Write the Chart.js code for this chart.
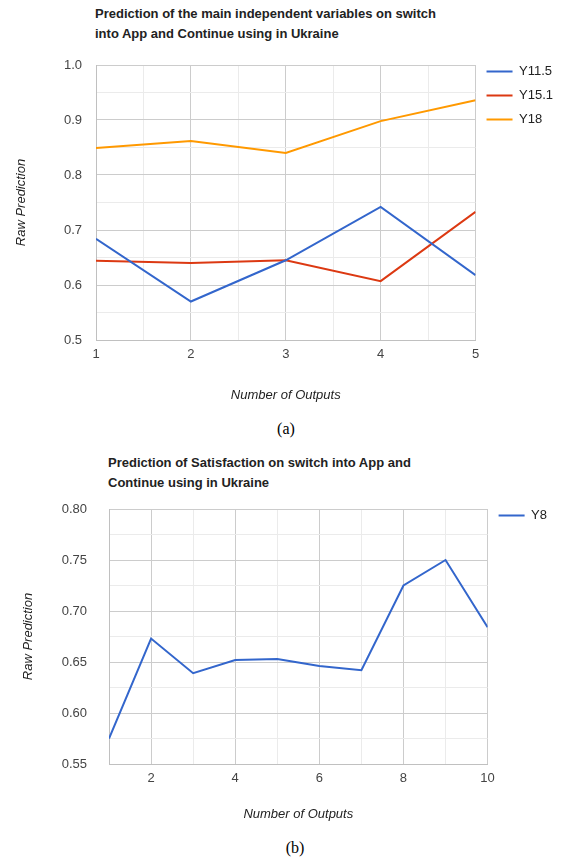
<!DOCTYPE html>
<html>
<head>
<meta charset="utf-8">
<script src="https://cdn.jsdelivr.net/npm/chart.js@4/dist/chart.umd.min.js"></script>
<style>
  body { margin: 0; background: #fff; width: 566px; height: 861px; position: relative; overflow: hidden; }
  .title { position: absolute; font: bold 13px "Liberation Sans", Arial, sans-serif; color: #222; line-height: 20px; }
  .cap { position: absolute; font: 16px "Liberation Serif", "Times New Roman", serif; color: #000; width: 60px; text-align: center; }
  .box { position: absolute; left: 0; width: 566px; }
</style>
</head>
<body>
<div class="title" style="left:95px; top:4px;">Prediction of the main independent variables on switch<br>into App and Continue using in Ukraine</div>
<div class="box" style="top:54px; height:362px;"><canvas id="chartA"></canvas></div>
<div class="cap" style="left:256px; top:420px;">(a)</div>

<div class="title" style="left:108px; top:453px;">Prediction of Satisfaction on switch into App and<br>Continue using in Ukraine</div>
<div class="box" style="top:498px; height:340px;"><canvas id="chartB"></canvas></div>
<div class="cap" style="left:265px; top:839px;">(b)</div>

<script>
// chart (a)
const outputsA = [1, 2, 3, 4, 5];
const y11_5 = [0.684, 0.570, 0.645, 0.742, 0.618];
const y15_1 = [0.644, 0.640, 0.645, 0.607, 0.733];
const y18 = [0.849, 0.862, 0.840, 0.898, 0.936];

// chart (b)
const outputsB = [1, 2, 3, 4, 5, 6, 7, 8, 9, 10];
const y8 = [0.575, 0.673, 0.639, 0.652, 0.653, 0.646, 0.642, 0.725, 0.750, 0.684];

const FONT = '"Liberation Sans", Arial, sans-serif';
const MAJOR = '#cccccc', MINOR = '#ebebeb';

function pts(xs, ys) {
    return xs.map((x, i) => ({ x: x, y: ys[i] }));
}

function isMult(v, step) {
    const r = v / step;
    return Math.abs(r - Math.round(r)) < 1e-6;
}

function makeChart(id, datasets, cfg) {
    const ctx = document.getElementById(id).getContext('2d');
    return new Chart(ctx, {
        type: 'line',
        data: { datasets: datasets },
        options: {
            responsive: true,
            maintainAspectRatio: false,
            animation: false,
            layout: { padding: { top: 0, right: cfg.padRight, left: 0, bottom: 0 } },
            elements: { point: { radius: 0 }, line: { borderWidth: 2, tension: 0 } },
            plugins: {
                legend: {
                    position: 'right',
                    align: 'start',
                    labels: {
                        usePointStyle: true,
                        pointStyle: 'line',
                        pointStyleWidth: 26,
                        padding: 11,
                        color: '#222',
                        font: { family: FONT, size: 13 }
                    }
                },
                tooltip: { enabled: false }
            },
            scales: {
                x: {
                    type: 'linear',
                    min: cfg.xMin, max: cfg.xMax,
                    afterFit: s => { s.height = cfg.xHeight; },
                    afterBuildTicks: s => { s.ticks = cfg.xTicks.map(v => ({ value: v })); },
                    ticks: {
                        autoSkip: false, maxRotation: 0, padding: 7,
                        color: '#444', font: { family: FONT, size: 13 },
                        callback: v => cfg.xLabel(v) ? String(v) : ''
                    },
                    grid: {
                        drawTicks: false,
                        color: c => cfg.xLabel(c.tick.value) || c.tick.value === cfg.xMin ? MAJOR : MINOR
                    },
                    border: { color: '#c0c0c0' },
                    title: {
                        display: true, text: 'Number of Outputs', color: '#222',
                        font: { family: FONT, size: 13, style: 'italic' },
                        padding: { bottom: cfg.xTitlePad, top: 0 }
                    }
                },
                y: {
                    min: cfg.yMin, max: cfg.yMax,
                    afterFit: s => { s.width = cfg.yWidth; s.paddingTop = cfg.top; },
                    afterBuildTicks: s => { s.ticks = cfg.yTicks.map(v => ({ value: v })); },
                    ticks: {
                        autoSkip: false, padding: cfg.yTickPad,
                        color: '#444', font: { family: FONT, size: 13 },
                        callback: v => isMult(v, cfg.yMajor) ? v.toFixed(cfg.yDec) : ''
                    },
                    grid: {
                        drawTicks: false,
                        color: c => isMult(c.tick.value, cfg.yMajor) ? MAJOR : MINOR
                    },
                    border: { color: '#c0c0c0' },
                    title: {
                        display: true, text: 'Raw Prediction', color: '#222',
                        font: { family: FONT, size: 13, style: 'italic' },
                        padding: { top: cfg.yTitlePad, bottom: 0 }
                    }
                }
            }
        }
    });
}

makeChart('chartA', [
    { label: 'Y11.5', data: pts(outputsA, y11_5), borderColor: '#3366cc', backgroundColor: '#3366cc', borderWidth: 2 },
    { label: 'Y15.1', data: pts(outputsA, y15_1), borderColor: '#dc3912', backgroundColor: '#dc3912', borderWidth: 2 },
    { label: 'Y18', data: pts(outputsA, y18), borderColor: '#ff9900', backgroundColor: '#ff9900', borderWidth: 2 }
], {
    padRight: 3, top: 11,
    xMin: 1, xMax: 5, xTicks: [1, 1.5, 2, 2.5, 3, 3.5, 4, 4.5, 5],
    xLabel: v => Number.isInteger(v), xHeight: 76, xTitlePad: 13,
    yMin: 0.5, yMax: 1.0, yTicks: [0.5, 0.55, 0.6, 0.65, 0.7, 0.75, 0.8, 0.85, 0.9, 0.95, 1.0],
    yMajor: 0.1, yDec: 1, yWidth: 96, yTickPad: 14, yTitlePad: 14
});

makeChart('chartB', [
    { label: 'Y8', data: pts(outputsB, y8), borderColor: '#3366cc', backgroundColor: '#3366cc', borderWidth: 2 }
], {
    padRight: 9, top: 11,
    xMin: 1, xMax: 10, xTicks: [1, 2, 3, 4, 5, 6, 7, 8, 9, 10],
    xLabel: v => v % 2 === 0, xHeight: 74, xTitlePad: 16,
    yMin: 0.55, yMax: 0.80, yTicks: [0.55, 0.575, 0.6, 0.625, 0.65, 0.675, 0.7, 0.725, 0.75, 0.775, 0.8],
    yMajor: 0.05, yDec: 2, yWidth: 109, yTickPad: 22, yTitlePad: 21
});
</script>
</body>
</html>
